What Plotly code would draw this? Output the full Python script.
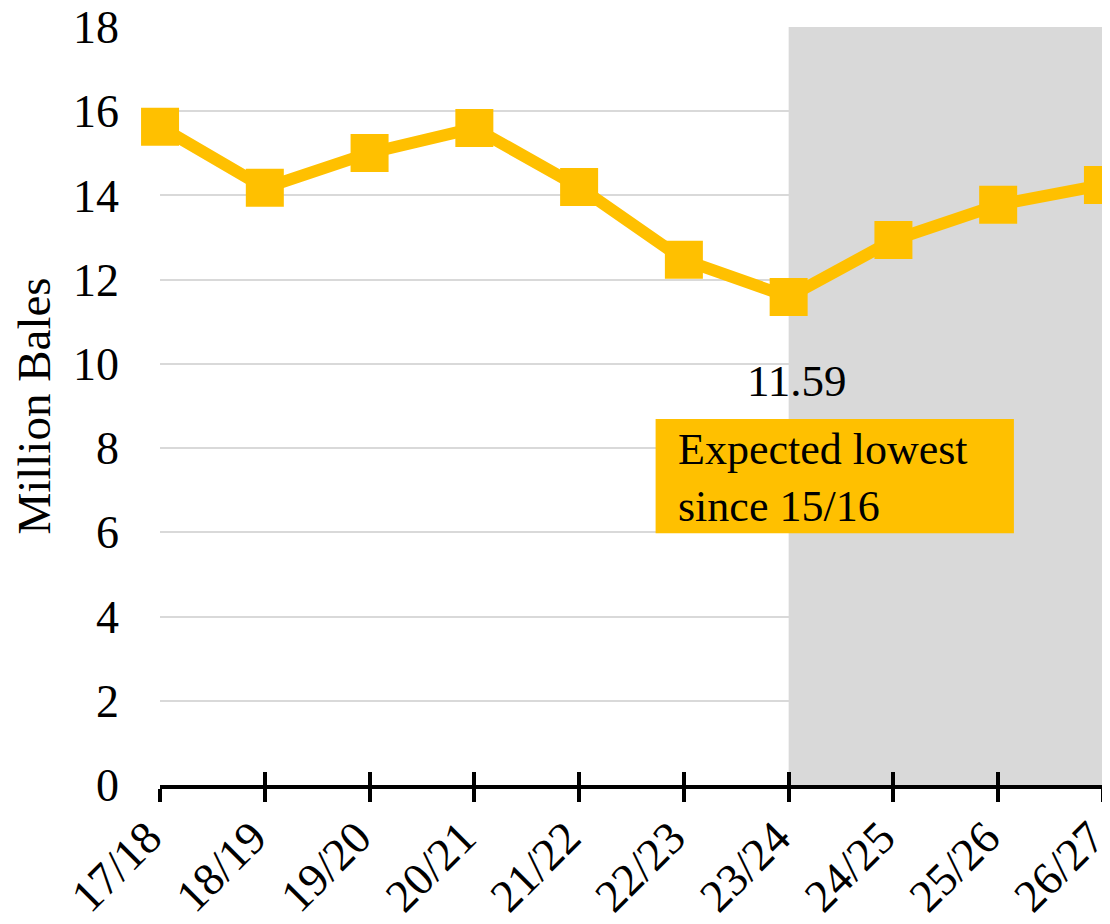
import plotly.graph_objects as go

seasons = ["17/18", "18/19", "19/20", "20/21", "21/22", "22/23", "23/24", "24/25", "25/26", "26/27"]
production = [15.63, 14.18, 15.01, 15.60, 14.20, 12.47, 11.59, 12.94, 13.78, 14.25]
y_ticks = [0, 2, 4, 6, 8, 10, 12, 14, 16, 18]

GOLD = "#FFC000"
GREY = "#D9D9D9"
FONT = "Liberation Serif"
x_idx = list(range(len(seasons)))
xr = [-0.0005, len(seasons) - 1 + 0.0005]

fig = go.Figure()
fig.add_trace(go.Scatter(
    x=x_idx, y=production, mode="lines+markers",
    line=dict(color=GOLD, width=12),
    marker=dict(symbol="square", size=38, color=GOLD),
    cliponaxis=False, showlegend=False, hoverinfo="skip",
))
# invisible trace to activate overlay axis (inside ticks)
fig.add_trace(go.Scatter(x=x_idx, y=production, xaxis="x2", mode="none",
                         showlegend=False, hoverinfo="skip"))

low_i = production.index(min(production))
fig.add_shape(type="rect", xref="x", yref="y", x0=low_i, x1=len(seasons) - 1,
              y0=0, y1=18, fillcolor=GREY, line=dict(width=0), layer="between")
# callout box
fig.add_shape(type="rect", xref="x", yref="y", x0=4.73, x1=8.15, y0=5.98, y1=8.69,
              fillcolor=GOLD, line=dict(width=0), layer="above")

fig.add_annotation(x=low_i + 0.08, y=9.6, text=f"{min(production):.2f}", showarrow=False,
                   font=dict(family=FONT, size=45, color="black"))
fig.add_annotation(x=4.92, y=7.28, xanchor="left", yanchor="middle",
                   text="Expected lowest<br>since 15/16", showarrow=False, align="left",
                   font=dict(family=FONT, size=44, color="black"))

# page body has an 8px margin, so the figure is sized/offset to fit the window
fig.update_layout(
    width=1102, height=916,
    margin=dict(l=152, r=7, t=19, b=139),
    plot_bgcolor="white", paper_bgcolor="white",
    font=dict(family=FONT, size=44, color="black"),
    xaxis=dict(range=xr, tickvals=x_idx, ticktext=seasons,
               tickangle=-45, showgrid=False, zeroline=False, automargin=False,
               showline=True, linecolor="black", linewidth=4,
               ticks="outside", ticklen=13, tickwidth=4, tickcolor="black",
               ticklabeloverflow="allow", ticklabelstandoff=-10, ticklabelshift=-12,
               tickfont=dict(family=FONT, size=46)),
    xaxis2=dict(overlaying="x", anchor="y", side="bottom", range=xr,
                tickvals=x_idx, showticklabels=False, showgrid=False, zeroline=False,
                ticks="inside", ticklen=13, tickwidth=4, tickcolor="black"),
    yaxis=dict(range=[0, 18], tickvals=y_ticks, showgrid=True, gridcolor=GREY, gridwidth=2,
               zeroline=False, showline=False, ticks="", ticklabelstandoff=40, automargin=False,
               ticklabeloverflow="allow",
               title=dict(text="Million Bales", font=dict(family=FONT, size=47), standoff=22),
               tickfont=dict(family=FONT, size=46)),
)

fig.write_html("out.html")
